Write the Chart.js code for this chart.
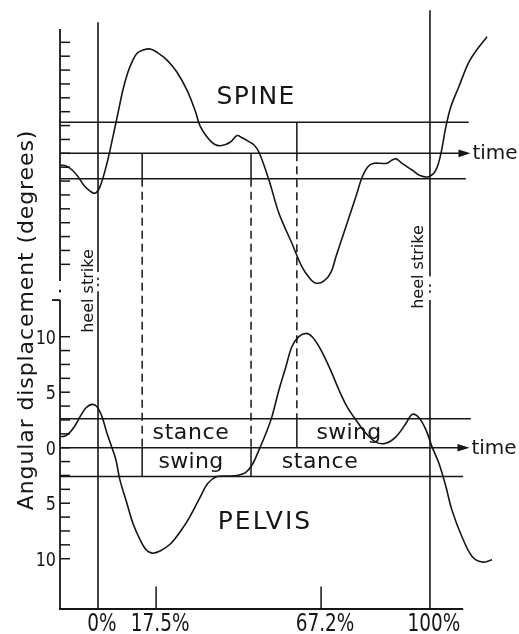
<!DOCTYPE html>
<html>
<head>
<meta charset="utf-8">
<script src="https://cdn.jsdelivr.net/npm/chart.js@4.4.1/dist/chart.umd.min.js"></script>
<style>
  html, body { margin: 0; padding: 0; background: #fff; }
  canvas { display: block; }
</style>
</head>
<body>
<canvas id="gait" width="519" height="634"></canvas>
<script>
// Gait cycle in percent: 0% and 100% are successive heel strikes.
const spineCycle = [-11.4,-9.6,-7.8,-6.0,-4.2,-2.4,-0.9,0.6,2.7,4.5,6.0,7.5,9.0,10.2,11.7,13.6,15.7,17.8,20.8,23.8,26.8,29.2,30.7,32.8,35.2,37.3,39.8,41.9,43.4,45.2,47.0,48.5,51.5,54.5,58.4,61.4,63.9,65.7,68.1,70.2,71.7,74.7,77.7,79.5,81.3,83.1,85.2,87.0,88.6,89.8,91.6,94.6,97.0,99.7,101.8,103.3,104.8,106.3,108.7,111.7,114.8,117.2];
const spineAngle = [-1.05,-1.15,-1.5,-2.1,-2.9,-3.4,-3.6,-3.0,-0.9,1.5,3.6,5.7,7.3,8.2,9.0,9.3,9.4,9.1,8.4,7.3,5.7,3.9,2.5,1.5,0.8,0.7,1.0,1.6,1.4,1.1,0.75,0.1,-2.4,-5.4,-8.1,-10.2,-11.3,-11.7,-11.5,-10.7,-9.3,-6.6,-3.9,-2.2,-1.2,-0.9,-0.9,-0.9,-0.6,-0.5,-0.9,-1.5,-2.0,-2.1,-1.5,0.0,2.4,4.2,6.0,8.2,9.6,10.5];

const pelvisCycle = [-11.4,-9.9,-8.4,-6.9,-5.4,-3.6,-1.8,-0.3,1.2,2.7,4.2,5.4,6.6,8.7,10.5,12.7,14.5,16.3,18.7,21.7,24.7,27.7,30.7,33.1,35.8,38.9,41.9,44.6,46.7,48.5,50.6,52.4,54.5,56.6,58.4,60.5,62.7,64.5,66.6,69.6,72.6,75.0,77.7,80.7,83.7,86.7,89.8,92.8,94.6,96.7,98.8,100.6,102.7,104.8,106.6,109.6,112.7,115.7,118.7];
const pelvisAngle = [1.0,1.05,1.4,2.0,2.8,3.6,3.9,3.7,2.8,1.3,0.0,-1.1,-2.9,-5.0,-6.8,-8.3,-9.2,-9.5,-9.3,-8.7,-7.6,-6.2,-4.5,-3.2,-2.6,-2.55,-2.5,-2.2,-1.4,-0.2,1.3,2.8,5.2,7.3,9.1,10.0,10.3,10.0,9.1,7.3,5.2,3.7,2.5,1.3,0.5,0.4,1.0,2.2,3.0,2.7,1.6,0.1,-1.4,-3.5,-5.6,-8.0,-9.8,-10.3,-10.1];

// Reference bands (degrees) around each zero line
const spineBand = [2.8, -2.3];
const pelvisBand = [2.6, -2.6];

// Stance / swing changeover instants (percent of cycle)
const phaseEvents = [13.3, 46.1, 59.9];
const heelStrikes = [0, 100];

// Axis ticks
const xTickValues = [0, 17.5, 67.2, 100];
const xTickLabels = ['0%', '17.5%', '67.2%', '100%'];
const yTickValues = [10, 5, 0, -5, -10];
const yTickLabels = ['10', '5', '0', '5', '10'];
const minorTickStep = 1.25;

const ink = '#161616';
const FONT = '"DejaVu Sans", "Liberation Sans", sans-serif';

function toPoints(xs, ys) { return xs.map((x, i) => ({ x, y: ys[i] })); }

function text(ctx, str, px, py, o) {
  ctx.save();
  ctx.translate(px, py);
  if (o.rot) ctx.rotate(o.rot);
  if (o.sx) ctx.scale(o.sx, 1);
  ctx.font = o.size + 'px ' + FONT;
  if ('letterSpacing' in ctx) ctx.letterSpacing = (o.ls || 0) + 'px';
  ctx.textAlign = o.align || 'center';
  ctx.textBaseline = o.base || 'alphabetic';
  ctx.fillStyle = ink;
  ctx.fillText(str, 0, 0);
  ctx.restore();
}

function seg(ctx, x1, y1, x2, y2, dash) {
  ctx.save();
  ctx.setLineDash(dash || []);
  ctx.beginPath();
  ctx.moveTo(x1, y1);
  ctx.lineTo(x2, y2);
  ctx.stroke();
  ctx.restore();
}

function arrow(ctx, tipX, y) {
  ctx.beginPath();
  ctx.moveTo(tipX, y);
  ctx.lineTo(tipX - 12, y - 3.8);
  ctx.lineTo(tipX - 12, y + 3.8);
  ctx.closePath();
  ctx.fill();
}

const gaitFrame = {
  id: 'gaitFrame',
  beforeDatasetsDraw(chart) {
    const { ctx, chartArea: a, scales } = chart;
    const X = v => scales.x.getPixelForValue(v);
    const YS = v => scales.yS.getPixelForValue(v);
    const YP = v => scales.yP.getPixelForValue(v);
    const x0 = a.left;

    ctx.save();
    ctx.strokeStyle = ink;
    ctx.fillStyle = ink;
    ctx.lineCap = 'butt';

    // vertical axis, broken between the two panels
    ctx.lineWidth = 1.8;
    seg(ctx, x0, a.top, x0, YS(-11.5));
    seg(ctx, x0, YP(13.3), x0, a.bottom);
    ctx.fillRect(x0 - 1, YS(-12.3), 2, 2.5);
    seg(ctx, x0 - 8, YP(13.3), x0, YP(13.3));
    // horizontal time axis
    seg(ctx, x0 - 1, a.bottom, X(110), a.bottom);

    // minor ticks for both panels
    ctx.lineWidth = 1.5;
    for (let v = -10; v <= 10.001; v += minorTickStep) {
      seg(ctx, x0, YS(v), x0 + 10, YS(v));
      seg(ctx, x0, YP(v), x0 + 10, YP(v));
    }

    // spine bands
    seg(ctx, x0, YS(spineBand[0]), X(111.7), YS(spineBand[0]));
    seg(ctx, x0, YS(0), X(111), YS(0));
    seg(ctx, x0, YS(spineBand[1]), X(110.8), YS(spineBand[1]));
    arrow(ctx, X(112.2), YS(0));
    text(ctx, 'time', X(112.2) + 2, YS(0) + 6, { size: 20, align: 'left' });

    // pelvis bands
    seg(ctx, x0, YP(pelvisBand[0]), X(112.3), YP(pelvisBand[0]));
    seg(ctx, x0, YP(0), X(111), YP(0));
    seg(ctx, x0, YP(pelvisBand[1]), X(110), YP(pelvisBand[1]));
    arrow(ctx, X(111.9), YP(0));
    text(ctx, 'time', X(111.9) + 2, YP(0) + 6, { size: 20, align: 'left' });

    // heel strike verticals
    ctx.lineWidth = 1.6;
    const hsTop = [11.8, 12.9], hsBreak = [-10.7, -11.1], hsResume = [14.1, 13.3];
    heelStrikes.forEach((h, i) => {
      const px = X(h);
      seg(ctx, px, YS(hsTop[i]), px, YS(hsBreak[i]));
      seg(ctx, px, YP(hsResume[i]), px, a.bottom);
      const mid = (YS(hsBreak[i]) + YP(hsResume[i])) / 2;
      ctx.fillRect(px - 0.8, mid - 4, 1.6, 2.5);
      ctx.fillRect(px - 0.8, mid + 2, 1.6, 2.5);
    });
    text(ctx, 'heel strike', X(0) - 5, 291, { size: 16, rot: -Math.PI / 2 });
    text(ctx, 'heel strike', X(100) - 7, 267, { size: 16, rot: -Math.PI / 2 });

    // stance / swing changeovers: solid inside bands, dashed between panels
    ctx.lineWidth = 1.5;
    const dash = [8, 5];
    [phaseEvents[0], phaseEvents[1]].forEach(e => {
      const px = X(e);
      seg(ctx, px, YS(0), px, YS(spineBand[1]));
      seg(ctx, px, YS(spineBand[1]), px, YP(0), dash);
      seg(ctx, px, YP(0), px, YP(pelvisBand[1]));
    });
    {
      const px = X(phaseEvents[2]);
      seg(ctx, px, YS(spineBand[0]), px, YS(0));
      seg(ctx, px, YS(0), px, YP(pelvisBand[0]), dash);
      seg(ctx, px, YP(pelvisBand[0]), px, YP(0));
    }

    // time ticks and labels
    ctx.lineWidth = 1.5;
    xTickValues.forEach((v, i) => {
      if (!heelStrikes.includes(v)) seg(ctx, X(v), YP(-12.5), X(v), a.bottom);
      text(ctx, xTickLabels[i], X(v) + 4, 631, { size: 24, sx: 0.77 });
    });
    yTickValues.forEach((v, i) => {
      text(ctx, yTickLabels[i], 56, YP(v) + 7, { size: 20, sx: 0.8, align: 'right' });
    });

    // phase labels in pelvis bands
    const upper = (YP(pelvisBand[0]) + YP(0)) / 2 + 6;
    const lower = (YP(0) + YP(pelvisBand[1])) / 2 + 6;
    text(ctx, 'stance', X(28), upper, { size: 22, ls: 0.6 });
    text(ctx, 'swing', X(28), lower, { size: 22, ls: 0.3 });
    text(ctx, 'swing', X(75.6), upper, { size: 22, ls: 0.3 });
    text(ctx, 'stance', X(66.9), lower, { size: 22, ls: 0.6 });

    // panel names
    text(ctx, 'SPINE', X(47.6), YS(5.25) + 9, { size: 25, ls: 1.2 });
    text(ctx, 'PELVIS', X(50.3), YP(-6.5) + 9, { size: 25, ls: 2 });

    // vertical axis title
    text(ctx, 'Angular displacement (degrees)', 33, 320, { size: 22, ls: 0.9, rot: -Math.PI / 2 });

    ctx.restore();
  }
};

const lineStyle = {
  borderColor: ink,
  borderWidth: 1.6,
  pointRadius: 0,
  fill: false,
  tension: 0.35,
  clip: false
};

new Chart(document.getElementById('gait'), {
  type: 'line',
  data: {
    datasets: [
      Object.assign({ label: 'SPINE', data: toPoints(spineCycle, spineAngle), yAxisID: 'yS' }, lineStyle),
      Object.assign({ label: 'PELVIS', data: toPoints(pelvisCycle, pelvisAngle), yAxisID: 'yP' }, lineStyle)
    ]
  },
  options: {
    responsive: false,
    animation: false,
    devicePixelRatio: 1,
    layout: { padding: { left: 60, right: 19, top: 29, bottom: 25 } },
    plugins: { legend: { display: false }, tooltip: { enabled: false }, title: { display: false } },
    events: [],
    scales: {
      x: { type: 'linear', min: -11.45, max: 121.1, display: false },
      yS: { type: 'linear', min: -41.05, max: 11.2, display: false },
      yP: { type: 'linear', min: -14.53, max: 37.72, display: false }
    }
  },
  plugins: [gaitFrame]
});
</script>
</body>
</html>
